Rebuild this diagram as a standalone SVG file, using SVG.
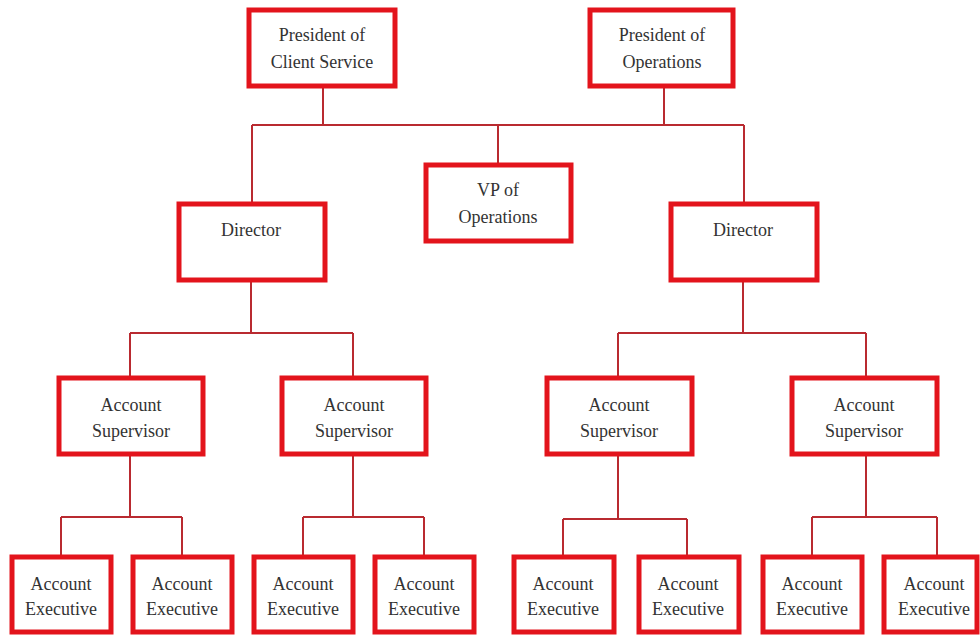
<svg xmlns="http://www.w3.org/2000/svg" width="980" height="637" viewBox="0 0 980 637">
<style>
.box{fill:#fff;stroke:#e3141c;stroke-width:5}
.t{font-family:"Liberation Serif","Times New Roman",serif;font-size:18px;fill:#333;text-anchor:middle}
.c{fill:none;stroke:#b92a30;stroke-width:2}
</style>
<rect width="980" height="637" fill="#fff"/>
<g id="connectors">
<path class="c" d="M323 87V125M664 87V125M252 125H744M498 125V164M252 125V203M744 125V203"/>
<path class="c" d="M251 280V333M130 333H353M130 333V377M353 333V377"/>
<path class="c" d="M743 280V333M618 333H866M618 333V377M866 333V377"/>
<path class="c" d="M130 454V517M61 517H182M61 517V555M182 517V555"/>
<path class="c" d="M353 454V517M303 517H424M303 517V555M424 517V555"/>
<path class="c" d="M618 454V519M563 519H687M563 519V555M687 519V555"/>
<path class="c" d="M866 454V517M812 517H937M812 517V555M937 517V555"/>
</g>
<g id="pres-client"><rect class="box" x="249" y="10" width="146" height="76"/><text class="t" x="322" y="41">President of</text><text class="t" x="322" y="68">Client Service</text></g>
<g id="pres-ops"><rect class="box" x="590" y="10" width="143" height="76"/><text class="t" x="662" y="41">President of</text><text class="t" x="662" y="68">Operations</text></g>
<g id="vp-ops"><rect class="box" x="426" y="165" width="145" height="76"/><text class="t" x="498" y="196">VP of</text><text class="t" x="498" y="223">Operations</text></g>
<g id="dir-left"><rect class="box" x="179" y="204" width="146" height="76"/><text class="t" x="251" y="236">Director</text></g>
<g id="dir-right"><rect class="box" x="671" y="204" width="146" height="76"/><text class="t" x="743" y="236">Director</text></g>
<g id="as1"><rect class="box" x="59" y="378" width="144" height="76"/><text class="t" x="131" y="411">Account</text><text class="t" x="131" y="437">Supervisor</text></g>
<g id="as2"><rect class="box" x="282" y="378" width="144" height="76"/><text class="t" x="354" y="411">Account</text><text class="t" x="354" y="437">Supervisor</text></g>
<g id="as3"><rect class="box" x="547" y="378" width="145" height="76"/><text class="t" x="619" y="411">Account</text><text class="t" x="619" y="437">Supervisor</text></g>
<g id="as4"><rect class="box" x="792" y="378" width="145" height="76"/><text class="t" x="864" y="411">Account</text><text class="t" x="864" y="437">Supervisor</text></g>
<g id="ae1"><rect class="box" x="12" y="557" width="99" height="75"/><text class="t" x="61" y="590">Account</text><text class="t" x="61" y="615">Executive</text></g>
<g id="ae2"><rect class="box" x="133" y="557" width="99" height="75"/><text class="t" x="182" y="590">Account</text><text class="t" x="182" y="615">Executive</text></g>
<g id="ae3"><rect class="box" x="254" y="557" width="99" height="75"/><text class="t" x="303" y="590">Account</text><text class="t" x="303" y="615">Executive</text></g>
<g id="ae4"><rect class="box" x="375" y="557" width="99" height="75"/><text class="t" x="424" y="590">Account</text><text class="t" x="424" y="615">Executive</text></g>
<g id="ae5"><rect class="box" x="514" y="557" width="100" height="75"/><text class="t" x="563" y="590">Account</text><text class="t" x="563" y="615">Executive</text></g>
<g id="ae6"><rect class="box" x="639" y="557" width="100" height="75"/><text class="t" x="688" y="590">Account</text><text class="t" x="688" y="615">Executive</text></g>
<g id="ae7"><rect class="box" x="763" y="557" width="99" height="75"/><text class="t" x="812" y="590">Account</text><text class="t" x="812" y="615">Executive</text></g>
<g id="ae8"><rect class="box" x="884" y="557" width="93" height="75"/><text class="t" x="934" y="590">Account</text><text class="t" x="934" y="615">Executive</text></g>
</svg>
